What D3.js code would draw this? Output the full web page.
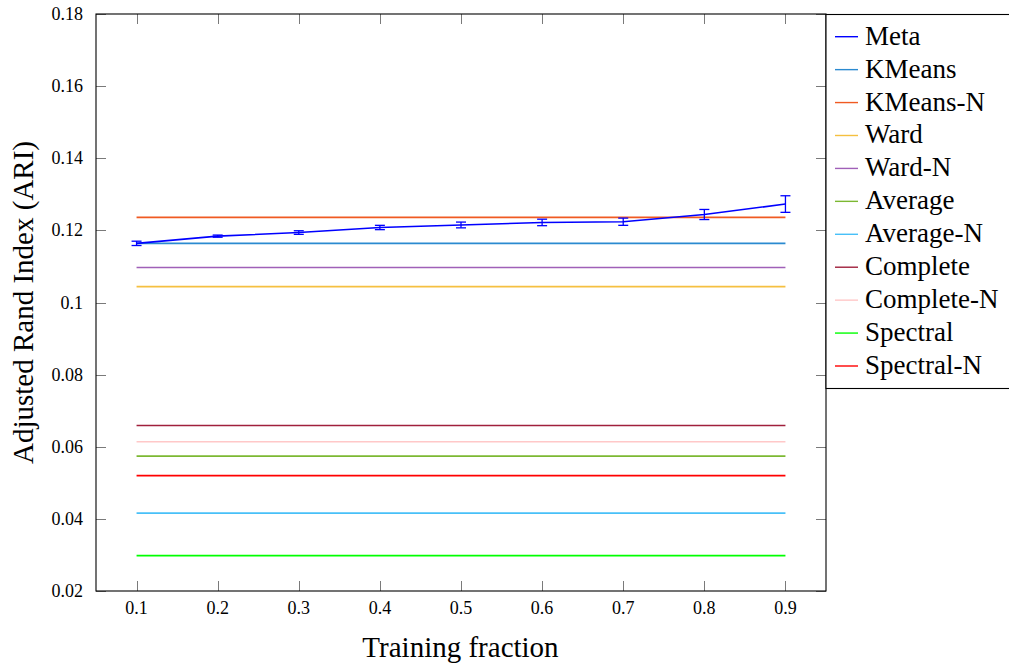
<!DOCTYPE html>
<html>
<head>
<meta charset="utf-8">
<script src="https://cdn.jsdelivr.net/npm/d3@7"></script>
<style>
  html, body { margin: 0; padding: 0; background: #fff; }
  svg { display: block; font-family: "Liberation Serif", "Times New Roman", serif; }
</style>
</head>
<body>
<svg id="chart" width="1009" height="663"></svg>
<script>
// ---- data ----
const fractions = [0.1, 0.2, 0.3, 0.4, 0.5, 0.6, 0.7, 0.8, 0.9];
const metaMean = [0.1164, 0.1184, 0.1194, 0.1208, 0.1215, 0.1222, 0.1224, 0.1244, 0.1273];
const metaErr  = [0.0006, 0.0003, 0.0005, 0.0006, 0.0008, 0.0009, 0.0010, 0.0014, 0.0023];

const baselineNames  = ["KMeans", "KMeans-N", "Ward", "Ward-N", "Average", "Average-N", "Complete", "Complete-N", "Spectral", "Spectral-N"];
const baselineValues = [0.1164, 0.1236, 0.1044, 0.1097, 0.0574, 0.0416, 0.0659, 0.0614, 0.0298, 0.0520];

const legendNames = ["Meta"].concat(baselineNames);
const seriesColors = ["#0000ff", "#2b8ad0", "#f05a22", "#f5c040", "#a060b8", "#7cb832", "#48c0f8", "#a0203c", "#ffc8c8", "#00ff00", "#ff0000"];

const xTickValues = [0.1, 0.2, 0.3, 0.4, 0.5, 0.6, 0.7, 0.8, 0.9];
const xTickLabels = ["0.1", "0.2", "0.3", "0.4", "0.5", "0.6", "0.7", "0.8", "0.9"];
const yTickValues = [0.02, 0.04, 0.06, 0.08, 0.1, 0.12, 0.14, 0.16, 0.18];
const yTickLabels = ["0.02", "0.04", "0.06", "0.08", "0.1", "0.12", "0.14", "0.16", "0.18"];

// ---- layout ----
const svg = d3.select("#chart");
const L = 96, R = 826, T = 14, B = 591;
const x = d3.scaleLinear().domain([0.05, 0.95]).range([L, R]);
const y = d3.scaleLinear().domain([0.02, 0.18]).range([B, T]);
const colorOf = d3.scaleOrdinal().domain(legendNames).range(seriesColors);

const tickLen = 10;
const tickColor = "#7a7a7a";

// ticks (inward on all four sides)
const gTicks = svg.append("g");
gTicks.selectAll("line.xb").data(xTickValues).join("line")
  .attr("x1", d => Math.round(x(d)) + 0.5).attr("x2", d => Math.round(x(d)) + 0.5)
  .attr("y1", B).attr("y2", B - tickLen)
  .attr("stroke", tickColor).attr("stroke-width", 1);
gTicks.selectAll("line.xt").data(xTickValues).join("line")
  .attr("x1", d => Math.round(x(d)) + 0.5).attr("x2", d => Math.round(x(d)) + 0.5)
  .attr("y1", T).attr("y2", T + tickLen)
  .attr("stroke", tickColor).attr("stroke-width", 1);
gTicks.selectAll("line.yl").data(yTickValues).join("line")
  .attr("x1", L).attr("x2", L + tickLen)
  .attr("y1", d => Math.round(y(d)) + 0.5).attr("y2", d => Math.round(y(d)) + 0.5)
  .attr("stroke", tickColor).attr("stroke-width", 1);
gTicks.selectAll("line.yr").data(yTickValues).join("line")
  .attr("x1", R).attr("x2", R - tickLen)
  .attr("y1", d => Math.round(y(d)) + 0.5).attr("y2", d => Math.round(y(d)) + 0.5)
  .attr("stroke", tickColor).attr("stroke-width", 1);

// baseline horizontal lines
const lineGen = d3.line().x(d => x(d[0])).y(d => y(d[1]));
const gLines = svg.append("g");
baselineNames.forEach((name, i) => {
  const v = baselineValues[i];
  gLines.append("path")
    .attr("d", lineGen([[fractions[0], v], [fractions[fractions.length - 1], v]]))
    .attr("fill", "none")
    .attr("stroke", colorOf(name))
    .attr("stroke-width", 1.6);
});

// Meta line with error bars
const metaPts = fractions.map((f, i) => [f, metaMean[i]]);
const gMeta = svg.append("g");
gMeta.append("path")
  .attr("d", lineGen(metaPts))
  .attr("fill", "none")
  .attr("stroke", colorOf("Meta"))
  .attr("stroke-width", 1.6);
const capW = 5;
fractions.forEach((f, i) => {
  const cx = x(f), y1 = y(metaMean[i] - metaErr[i]), y2 = y(metaMean[i] + metaErr[i]);
  gMeta.append("line").attr("x1", cx).attr("x2", cx).attr("y1", y1).attr("y2", y2)
    .attr("stroke", colorOf("Meta")).attr("stroke-width", 1.3);
  [y1, y2].forEach(yy => gMeta.append("line")
    .attr("x1", cx - capW).attr("x2", cx + capW).attr("y1", yy).attr("y2", yy)
    .attr("stroke", colorOf("Meta")).attr("stroke-width", 1.3));
});

// axis frame
svg.append("rect").attr("x", L).attr("y", T).attr("width", R - L).attr("height", B - T)
  .attr("fill", "none").attr("stroke", "#000").attr("stroke-width", 1.1);

// tick labels
svg.append("g").selectAll("text").data(xTickValues).join("text")
  .attr("x", d => x(d)).attr("y", 614)
  .attr("text-anchor", "middle").attr("font-size", 18).attr("fill", "#000")
  .text((d, i) => xTickLabels[i]);
svg.append("g").selectAll("text").data(yTickValues).join("text")
  .attr("x", 83).attr("y", d => y(d) + 6)
  .attr("text-anchor", "end").attr("font-size", 18).attr("fill", "#000")
  .text((d, i) => yTickLabels[i]);

// axis titles
svg.append("text").attr("x", (L + R) / 2 - 0.5).attr("y", 657)
  .attr("text-anchor", "middle").attr("font-size", 29).attr("fill", "#000")
  .text("Training fraction");
svg.append("text").attr("transform", `translate(33,${(T + B) / 2}) rotate(-90)`)
  .attr("text-anchor", "middle").attr("font-size", 29).attr("fill", "#000")
  .text("Adjusted Rand Index (ARI)");

// legend
const legX = 826, legY = 14.5, legW = 200, legH = 374;
const gLeg = svg.append("g");
gLeg.append("rect").attr("x", legX).attr("y", legY).attr("width", legW).attr("height", legH)
  .attr("fill", "#fff").attr("stroke", "#000").attr("stroke-width", 1.1);
legendNames.forEach((name, i) => {
  const ly = 36.7 + i * 32.93;
  gLeg.append("line").attr("x1", 835).attr("x2", 858).attr("y1", ly).attr("y2", ly)
    .attr("stroke", colorOf(name)).attr("stroke-width", 1.4);
  gLeg.append("text").attr("x", 865).attr("y", ly + 8)
    .attr("font-size", 27).attr("fill", "#000").text(name);
});
</script>
</body>
</html>
